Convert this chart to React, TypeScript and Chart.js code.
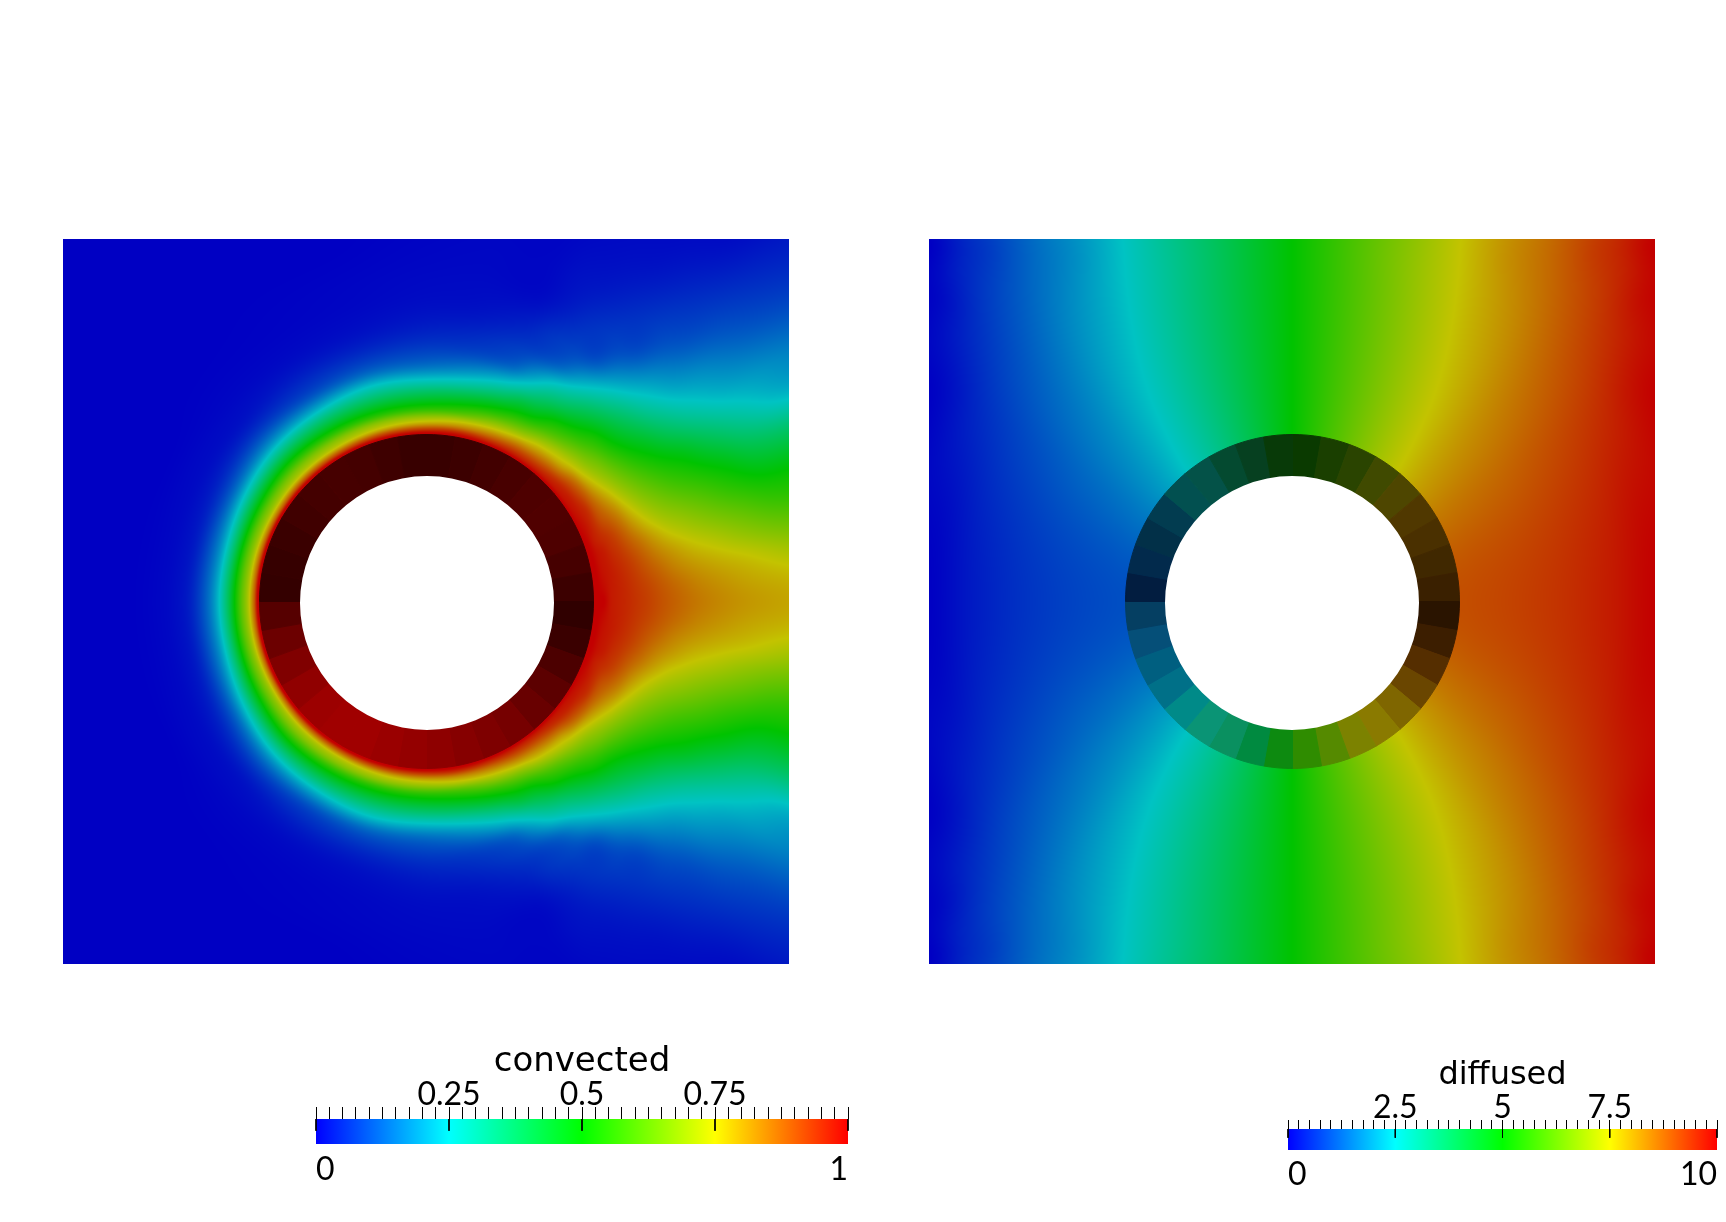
import React, { useEffect, useRef } from "react";
import { Chart, registerables } from "chart.js";
Chart.register(...registerables);

// ---------- colour ramp shared by fields and bars ----------
const rampPositions = [0, 0.25, 0.5, 0.75, 1];
const rampRed = [0, 0, 0, 255, 255];
const rampGreen = [0, 255, 255, 255, 0];
const rampBlue = [255, 255, 0, 0, 0];
const fieldShade = 0.765;

// ---------- convected field: samples along rays from the ring centre ----------
const convectedRadii = [168, 172, 178, 185, 192, 200, 210, 222, 236, 252, 272, 296, 326, 362, 410, 470, 530];
const convectedAngles = [0, 4, 8, 12, 16, 20, 25, 30, 35, 40, 45, 50, 55, 60, 65, 70, 80, 90, 105, 120, 135, 150, 165, 180];
const conv0 = [1, 1, 1, .97, .96, .95, .935, .918, .895, .872, .847, .825, .805, .79, .78, .78, .78];
const conv4 = [1, 1, .99, .97, .96, .949, .932, .913, .888, .862, .834, .811, .788, .77, .75, .75, .75];
const conv8 = [1, 1, .983, .97, .959, .945, .925, .898, .868, .834, .804, .778, .752, .718, .68, .66, .66];
const conv12 = [1, 1, .98, .968, .953, .937, .913, .879, .838, .80, .761, .728, .687, .647, .62, .6, .6];
const conv16 = [1, .998, .978, .964, .944, .925, .892, .851, .80, .75, .71, .67, .625, .576, .55, .55, .55];
const conv20 = [1, .995, .968, .949, .933, .909, .868, .81, .75, .70, .66, .615, .56, .51, .5, .5, .5];
const conv25 = [1, .99, .97, .94, .904, .875, .83, .76, .696, .645, .593, .545, .485, .413, .38, .38, .38];
const conv30 = [1, .985, .965, .94, .89, .84, .78, .71, .648, .59, .531, .475, .393, .313, .237, .2, .2];
const conv35 = [1, .98, .96, .92, .87, .80, .73, .667, .60, .532, .465, .384, .30, .229, .182, .14, .1];
const conv40 = [1, .975, .95, .90, .84, .76, .69, .63, .552, .476, .398, .308, .224, .173, .121, .084, .06];
const conv45 = [1, .97, .93, .86, .79, .73, .66, .583, .515, .43, .338, .243, .166, .11, .078, .046, .03];
const conv50 = [1, .965, .91, .84, .77, .705, .62, .54, .457, .372, .272, .175, .097, .076, .046, .016, .01];
const conv55 = [1, .96, .90, .82, .75, .67, .58, .50, .40, .306, .20, .098, .075, .05, .023, .01, .01];
const conv60 = [1, .96, .89, .80, .71, .625, .528, .44, .35, .25, .126, .081, .055, .03, .015, .01, .01];
const conv65 = [1, .955, .87, .77, .685, .594, .50, .405, .286, .18, .09, .063, .03, .02, .01, .01, .01];
const conv70 = [1, .95, .85, .75, .66, .56, .463, .35, .23, .12, .074, .04, .012, .008, .005, .005, .005];
const conv80 = [1, .95, .82, .71, .59, .50, .40, .28, .17, .09, .05, .022, .012, .008, .005, .005, .005];
const conv90 = [1, .93, .79, .68, .56, .47, .37, .25, .14, .08, .04, .018, .01, .005, 0, 0, 0];
const conv105 = [1, .92, .77, .67, .55, .46, .36, .25, .13, .065, .025, .01, .005, 0, 0, 0, 0];
const conv120 = [1, .90, .75, .66, .55, .45, .34, .21, .10, .05, .018, .006, .002, 0, 0, 0, 0];
const conv135 = [1, .89, .74, .65, .55, .44, .31, .18, .085, .03, .012, .004, 0, 0, 0, 0, 0];
const conv150 = [1, .87, .72, .62, .51, .39, .25, .13, .055, .02, .008, 0, 0, 0, 0, 0, 0];
const conv165 = [1, .87, .72, .61, .49, .35, .21, .11, .04, .015, .005, 0, 0, 0, 0, 0, 0];
const conv180 = [1, .87, .72, .61, .49, .35, .21, .11, .04, .015, .005, 0, 0, 0, 0, 0, 0];
const convectedRays = [conv0, conv4, conv8, conv12, conv16, conv20, conv25, conv30, conv35, conv40, conv45, conv50, conv55, conv60, conv65, conv70, conv80, conv90, conv105, conv120, conv135, conv150, conv165, conv180];

// ---------- diffused field ----------
const diffusedRadii = [168, 190, 215, 245, 280, 320, 364, 420, 470, 515];
const diffusedAngles = [0, 15, 30, 40, 45, 50, 60, 75, 90, 105, 120, 130, 135, 140, 150, 165, 180];
const diff0 = [9, 9.05, 9.13, 9.25, 9.42, 9.67, 10, 10, 10, 10];
const diff15 = [8.86, 8.92, 9.0, 9.12, 9.30, 9.55, 9.89, 10, 10, 10];
const diff30 = [8.46, 8.52, 8.61, 8.73, 8.92, 9.17, 9.50, 10, 10, 10];
const diff40 = [8.06, 8.12, 8.21, 8.33, 8.50, 8.73, 9.03, 9.48, 9.95, 10];
const diff45 = [7.83, 7.89, 7.97, 8.09, 8.25, 8.46, 8.74, 9.15, 9.58, 10];
const diff50 = [7.57, 7.62, 7.70, 7.80, 7.95, 8.15, 8.41, 8.81, 9.22, 9.25];
const diff60 = [7.0, 7.04, 7.10, 7.19, 7.32, 7.50, 7.73, 8.07, 8.07, 8.07];
const diff75 = [6.04, 6.06, 6.09, 6.14, 6.21, 6.31, 6.44, 6.47, 6.47, 6.47];
const diff90 = [5, 5, 5, 5, 5, 5, 5, 5, 5, 5];
const diff105 = [3.96, 3.94, 3.91, 3.86, 3.79, 3.69, 3.56, 3.53, 3.53, 3.53];
const diff120 = [3.0, 2.96, 2.90, 2.81, 2.68, 2.50, 2.27, 1.93, 1.93, 1.93];
const diff130 = [2.43, 2.38, 2.30, 2.20, 2.05, 1.85, 1.59, 1.19, .78, .75];
const diff135 = [2.17, 2.11, 2.03, 1.91, 1.75, 1.54, 1.26, .85, .42, 0];
const diff140 = [1.94, 1.88, 1.79, 1.67, 1.50, 1.27, .97, .52, .05, 0];
const diff150 = [1.54, 1.48, 1.39, 1.27, 1.08, .83, .50, 0, 0, 0];
const diff165 = [1.14, 1.08, 1.0, .88, .70, .45, .11, 0, 0, 0];
const diff180 = [1, .95, .87, .75, .58, .33, 0, 0, 0, 0];
const diffusedRays = [diff0, diff15, diff30, diff40, diff45, diff50, diff60, diff75, diff90, diff105, diff120, diff130, diff135, diff140, diff150, diff165, diff180];

// ---------- ring facets, clockwise from the top, one per span ----------
const ringSpanDegrees = 10;
const holeSpan = [360];
const convectedRing = ["#380000", "#3c0000", "#420000", "#480000", "#4e0000", "#500000", "#4e0000", "#460000", "#3c0000", "#300000", "#3a0000", "#4c0000", "#5c0000", "#680000", "#760000", "#7e0000", "#860000", "#8e0000", "#940000", "#9a0000", "#a00000", "#a00000", "#9c0000", "#900000", "#800000", "#6c0000", "#560000", "#340000", "#360000", "#3a0000", "#400000", "#440000", "#460000", "#440000", "#3e0000", "#380000"];
const diffusedRing = ["#0a3a00", "#1a3f00", "#2a4400", "#404a00", "#4e4600", "#503800", "#4a3000", "#402800", "#3a2000", "#2a1400", "#3c1e00", "#552e00", "#6a4600", "#7f6600", "#8a7a00", "#7c8200", "#558a00", "#2f8c00", "#0d8a10", "#008a40", "#0a9060", "#0a9475", "#008a88", "#007088", "#005f80", "#054f78", "#053f62", "#021d40", "#022a4c", "#023048", "#023c50", "#025050", "#045248", "#044a30", "#064020", "#083a08"];

// ---------- colour bars ----------
const convectedBarTitle = "convected";
const convectedTopLabels = [0.25, 0.5, 0.75];
const convectedLongTicks = [0, 0.25, 0.5, 0.75, 1];
const diffusedBarTitle = "diffused";
const diffusedTopLabels = [2.5, 5, 7.5];
const diffusedLongTicks = [0, 2.5, 5, 7.5, 10];

function rampAt(t: number, out: number[]) {
  const c = Math.min(1, Math.max(0, t));
  let i = 0;
  while (i < rampPositions.length - 2 && c > rampPositions[i + 1]) i++;
  const f = (c - rampPositions[i]) / (rampPositions[i + 1] - rampPositions[i]);
  out[0] = rampRed[i] + (rampRed[i + 1] - rampRed[i]) * f;
  out[1] = rampGreen[i] + (rampGreen[i + 1] - rampGreen[i]) * f;
  out[2] = rampBlue[i] + (rampBlue[i + 1] - rampBlue[i]) * f;
}

function bracket(list: number[], v: number): [number, number] {
  if (v <= list[0]) return [0, 0];
  const n = list.length - 1;
  if (v >= list[n]) return [n - 1, 1];
  let i = 0;
  while (list[i + 1] < v) i++;
  return [i, (v - list[i]) / (list[i + 1] - list[i])];
}

// smooth shading between the samples of one row of the grid
function smooth(xs: number[], get: (k: number) => number, i: number, f: number) {
  const n = xs.length - 1;
  const h = xs[i + 1] - xs[i];
  const a = get(i);
  const b = get(i + 1);
  const m0 = i > 0 ? (b - get(i - 1)) / (xs[i + 1] - xs[i - 1]) : 0;
  const m1 = i + 1 < n ? (get(i + 2) - a) / (xs[i + 2] - xs[i]) : 0;
  const f2 = f * f;
  const f3 = f2 * f;
  return (2 * f3 - 3 * f2 + 1) * a + (f3 - 2 * f2 + f) * h * m0 + (3 * f2 - 2 * f3) * b + (f3 - f2) * h * m1;
}

function sampleField(rays: number[][], angles: number[], radii: number[], x: number, y: number) {
  const r = Math.hypot(x, y);
  const a = (Math.atan2(Math.abs(y), x) * 180) / Math.PI;
  const [ai, af] = bracket(angles, a);
  const [ri, rf] = bracket(radii, r);
  return smooth(angles, (k) => smooth(radii, (q) => rays[k][q], ri, rf), ai, af);
}

function fieldPlugin(rays: number[][], angles: number[], radii: number[], top: number) {
  return {
    id: "fieldShading",
    beforeDatasetsDraw(chart: any) {
      const { ctx, chartArea, scales } = chart;
      const w = Math.round(chartArea.right - chartArea.left);
      const h = Math.round(chartArea.bottom - chartArea.top);
      const off = document.createElement("canvas");
      off.width = w;
      off.height = h;
      const octx = off.getContext("2d")!;
      const img = octx.createImageData(w, h);
      const rgb = [0, 0, 0];
      let p = 0;
      for (let j = 0; j < h; j++) {
        const yv = scales.y.getValueForPixel(chartArea.top + j + 0.5);
        for (let i = 0; i < w; i++) {
          const xv = scales.x.getValueForPixel(chartArea.left + i + 0.5);
          rampAt(sampleField(rays, angles, radii, xv, yv) / top, rgb);
          img.data[p++] = rgb[0] * fieldShade;
          img.data[p++] = rgb[1] * fieldShade;
          img.data[p++] = rgb[2] * fieldShade;
          img.data[p++] = 255;
        }
      }
      octx.putImageData(img, 0, 0);
      ctx.drawImage(off, chartArea.left, chartArea.top, w, h);
    },
  };
}

const barPlugin = {
  id: "barRamp",
  beforeDatasetsDraw(chart: any) {
    const { ctx, chartArea, scales } = chart;
    const top = scales.x.max;
    const g = ctx.createLinearGradient(scales.x.getPixelForValue(0), 0, scales.x.getPixelForValue(top), 0);
    rampPositions.forEach((pos, i) => g.addColorStop(pos, `rgb(${rampRed[i]},${rampGreen[i]},${rampBlue[i]})`));
    ctx.fillStyle = g;
    ctx.fillRect(chartArea.left, chartArea.top, chartArea.right - chartArea.left, chartArea.bottom - chartArea.top);
  },
};

function useChart(make: (c: HTMLCanvasElement) => Chart) {
  const ref = useRef<HTMLCanvasElement>(null);
  useEffect(() => {
    const chart = make(ref.current!);
    return () => chart.destroy();
  }, []);
  return ref;
}

const place = (left: number, top: number): React.CSSProperties => ({ position: "absolute", left, top, display: "block" });

function FieldPanel(props: { rays: number[][]; angles: number[]; radii: number[]; top: number; left: number; name: string }) {
  const { rays, angles, radii, top, left, name } = props;
  const ref = useChart(
    (c) =>
      new Chart(c, {
        type: "scatter",
        data: {
          datasets: [
            {
              label: name,
              pointRadius: 0,
              data: rays.flatMap((ray, i) =>
                ray.map((_, k) => ({
                  x: radii[k] * Math.cos((angles[i] * Math.PI) / 180),
                  y: radii[k] * Math.sin((angles[i] * Math.PI) / 180),
                }))
              ),
            },
          ],
        },
        options: {
          responsive: false,
          animation: false,
          events: [],
          layout: { padding: 0 },
          plugins: { legend: { display: false }, tooltip: { enabled: false } },
          scales: {
            x: { type: "linear", display: false, min: -363, max: 363 },
            y: { type: "linear", display: false, min: -362.5, max: 362.5 },
          },
        },
        plugins: [fieldPlugin(rays, angles, radii, top)],
      } as any)
  );
  return <canvas ref={ref} width={726} height={725} style={place(left, 239)} />;
}

function Ring(props: { shades: string[]; left: number; name: string }) {
  const { shades, left, name } = props;
  const ref = useChart(
    (c) =>
      new Chart(c, {
        type: "doughnut",
        data: {
          labels: shades.map((_, i) => `${i * ringSpanDegrees}`),
          datasets: [
            { label: name, data: shades.map(() => ringSpanDegrees), backgroundColor: shades, borderColor: shades, borderWidth: 1, weight: 42 },
            { label: "inner", data: holeSpan, backgroundColor: ["#ffffff"], borderWidth: 0, weight: 125 },
          ],
        },
        options: {
          responsive: false,
          animation: false,
          events: [],
          cutout: 0,
          layout: { padding: 0 },
          plugins: { legend: { display: false }, tooltip: { enabled: false } },
        },
      } as any)
  );
  return <canvas ref={ref} width={335} height={335} style={place(left, 434)} />;
}

function Hole(props: { left: number; top: number }) {
  const ref = useChart(
    (c) =>
      new Chart(c, {
        type: "doughnut",
        data: { datasets: [{ label: "hole", data: holeSpan, backgroundColor: ["#ffffff"], borderWidth: 0 }] },
        options: {
          responsive: false,
          animation: false,
          events: [],
          cutout: 0,
          layout: { padding: 0 },
          plugins: { legend: { display: false }, tooltip: { enabled: false } },
        },
      } as any)
  );
  return <canvas ref={ref} width={254} height={254} style={place(props.left, props.top)} />;
}

function ColorBar(props: {
  title: string; labels: number[]; longTicks: number[]; max: number; left: number; top: number; width: number;
  barHeight: number; tickLength: number; longReach: number; titleSize: number; titlePad: number; bottomPad: number;
}) {
  const { title, labels, longTicks, max, left, top, width, barHeight, tickLength, longReach, titleSize, titlePad, bottomPad } = props;
  const topHeight = 80;
  const bottomHeight = 50;
  const ref = useChart(
    (c) =>
      new Chart(c, {
        type: "scatter",
        data: {
          datasets: [
            {
              label: title,
              showLine: true,
              clip: false,
              spanGaps: false,
              borderColor: "#000",
              borderWidth: 1,
              pointRadius: 0,
              xAxisID: "x",
              data: longTicks.flatMap((t) => [{ x: t, y: 1 }, { x: t, y: 1 - longReach }, { x: NaN, y: NaN }]),
            },
          ],
        },
        options: {
          responsive: false,
          animation: false,
          events: [],
          layout: { padding: { left: 12, right: 12 } },
          plugins: { legend: { display: false }, tooltip: { enabled: false } },
          scales: {
            x: {
              type: "linear",
              position: "top",
              min: 0,
              max,
              afterFit: (s: any) => { s.height = topHeight; },
              title: { display: true, text: title, color: "#000", padding: { top: titlePad, bottom: 0 }, font: { family: "DejaVu Sans", size: titleSize } },
              border: { display: false },
              grid: { drawOnChartArea: false, drawTicks: true, tickLength, tickColor: "#000", lineWidth: 1 },
              ticks: {
                stepSize: max / 40,
                autoSkip: false,
                maxRotation: 0,
                padding: -4,
                color: "#000",
                font: { family: "Lato", size: 32, lineHeight: 1 },
                callback: (v: number) => {
                  const hit = labels.find((l) => Math.abs(l - v) < max / 1000);
                  return hit === undefined ? "" : String(hit);
                },
              },
            },
            xEnds: {
              type: "linear",
              position: "bottom",
              min: 0,
              max,
              afterFit: (s: any) => { s.height = bottomHeight; },
              border: { display: false },
              grid: { display: false, drawTicks: false },
              ticks: {
                stepSize: max,
                autoSkip: false,
                maxRotation: 0,
                align: "inner",
                padding: bottomPad,
                color: "#000",
                font: { family: "Lato", size: 32, lineHeight: 1 },
                callback: (v: number) => String(v),
              },
            },
            y: { type: "linear", display: false, min: 0, max: 1 },
          },
        },
        plugins: [barPlugin],
      } as any)
  );
  return <canvas ref={ref} width={width + 24} height={topHeight + barHeight + bottomHeight} style={place(left - 12, top - topHeight)} />;
}

export default function App() {
  return (
    <div style={{ position: "absolute", left: 0, top: 0, width: 1726, height: 1222, background: "#fff", overflow: "hidden" }}>
      <FieldPanel name="convected" rays={convectedRays} angles={convectedAngles} radii={convectedRadii} top={1} left={63} />
      <FieldPanel name="diffused" rays={diffusedRays} angles={diffusedAngles} radii={diffusedRadii} top={10} left={929} />
      <Ring name="convected ring" shades={convectedRing} left={259} />
      <Ring name="diffused ring" shades={diffusedRing} left={1125} />
      <Hole left={300} top={476} />
      <Hole left={1165} top={476} />
      <ColorBar title={convectedBarTitle} labels={convectedTopLabels} longTicks={convectedLongTicks} max={1} left={316} top={1119} width={532} barHeight={25} tickLength={12} longReach={0.47} titleSize={34} titlePad={3} bottomPad={10} />
      <ColorBar title={diffusedBarTitle} labels={diffusedTopLabels} longTicks={diffusedLongTicks} max={10} left={1288} top={1129} width={429} barHeight={21} tickLength={9} longReach={0.42} titleSize={32} titlePad={7} bottomPad={9} />
    </div>
  );
}
